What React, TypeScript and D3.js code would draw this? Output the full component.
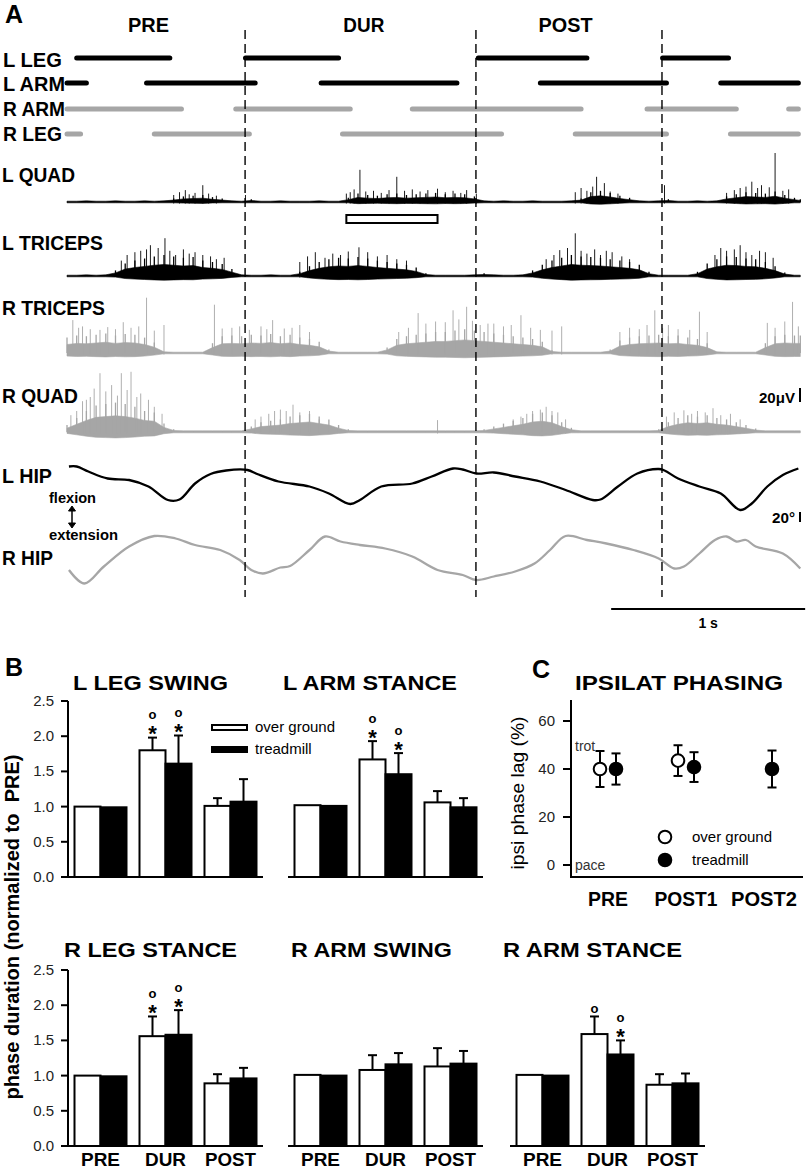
import React from "react";
import * as d3 from "d3";

const FONT = "'Liberation Sans', Arial, Helvetica, sans-serif";
const GRAY = "#a6a6a6";

// ---------------- Panel A data ----------------
const periodNames = ["PRE", "DUR", "POST"];
const periodCenters = [0.42, 1.53, 2.57]; // s
const periodWidths = [41, 41, 54];
const boundaryTimes = [0.918, 2.108, 3.067]; // s

const limbRows = ["L LEG", "L ARM", "R ARM", "R LEG"];
const lLegPhase = [[0.05, 0.53], [0.92, 1.40], [2.12, 2.68], [3.07, 3.41]];
const lArmPhase = [[0.0, 0.10], [0.41, 0.97], [1.31, 2.01], [2.44, 3.09], [3.37, 3.77]];
const rArmPhase = [[0.0, 0.59], [0.87, 1.46], [1.78, 2.65], [2.99, 3.45], [3.72, 3.77]];
const rLegPhase = [[0.0, 0.07], [0.45, 0.94], [1.42, 2.24], [2.62, 3.09], [3.42, 3.77]];
const stimWindow = [1.44, 1.91];

const EMG_BIN = 0.05; // s per envelope value
// rectified EMG envelopes (µV), one value per 50 ms
const lQuadEnv = [
  2, 2, 3, 2, 2, 3, 2, 2, 3, 2,
  3, 5, 8, 9, 10, 7, 5, 3, 2, 4,
  2, 2, 3, 2, 2, 2, 3, 2, 2, 6,
  12, 10, 9, 11, 12, 10, 11, 12, 13, 11,
  12, 11, 8, 3, 2, 3, 2, 2, 3, 2,
  2, 2, 3, 5, 14, 16, 13, 9, 6, 3,
  2, 3, 4, 2, 2, 3, 2, 3, 8, 11,
  14, 13, 12, 15, 10, 6, 4,
];
const lTricepsEnv = [
  2, 2, 3, 2, 3, 8, 18, 22, 25, 28,
  30, 28, 26, 27, 22, 20, 17, 10, 3, 2,
  2, 3, 2, 2, 6, 14, 20, 24, 26, 25,
  27, 25, 22, 20, 18, 16, 12, 4, 2, 2,
  2, 2, 3, 4, 3, 2, 2, 3, 8, 16,
  22, 26, 30, 28, 27, 26, 24, 22, 20, 16,
  6, 2, 2, 2, 2, 6, 18, 24, 28, 27,
  25, 24, 20, 14, 5, 2, 2,
];
const rTricepsEnv = [
  22, 25, 24, 26, 28, 25, 27, 26, 22, 15,
  3, 2, 2, 2, 2, 14, 24, 25, 24, 26,
  25, 27, 24, 26, 22, 20, 16, 5, 2, 2,
  2, 2, 2, 8, 20, 24, 26, 28, 30, 30,
  32, 34, 32, 30, 28, 26, 24, 22, 20, 16,
  4, 2, 2, 2, 2, 2, 5, 18, 22, 24,
  25, 26, 24, 25, 22, 20, 14, 3, 2, 2,
  2, 2, 14, 24, 26, 25, 25,
];
const rQuadEnv = [
  10, 20, 30, 38, 40, 42, 40, 36, 30, 28,
  12, 4, 3, 3, 3, 3, 3, 3, 3, 8,
  14, 16, 18, 22, 24, 26, 22, 18, 10, 4,
  3, 3, 3, 3, 3, 3, 3, 3, 3, 3,
  3, 3, 3, 4, 8, 12, 16, 20, 26, 28,
  24, 14, 6, 3, 3, 3, 3, 3, 3, 3,
  3, 4, 14, 20, 24, 22, 24, 20, 18, 14,
  10, 5, 3, 3, 3, 3, 3,
];
// prominent single spikes [time s, µV]
const lQuadSpikes = [[0.55, 10], [0.58, 14], [0.61, 17], [0.63, 11], [0.66, 13], [0.70, 24], [0.73, 12], [0.77, 9], [0.92, 10], [1.44, 12], [1.46, 14], [1.48, 18], [1.51, 46], [1.54, 15], [1.58, 16], [1.62, 13], [1.66, 17], [1.70, 36], [1.74, 16], [1.78, 18], [1.82, 15], [1.86, 17], [1.91, 19], [1.95, 14], [1.99, 16], [2.03, 13], [2.06, 17], [2.11, 12], [2.62, 14], [2.65, 20], [2.68, 16], [2.71, 22], [2.73, 36], [2.77, 27], [2.80, 15], [2.84, 12], [3.08, 24], [3.40, 13], [3.44, 17], [3.47, 20], [3.50, 22], [3.53, 29], [3.56, 20], [3.58, 24], [3.62, 21], [3.65, 70], [3.69, 16], [3.72, 18]];
const lTricepsSpikes = [[0.28, 22], [0.31, 30], [0.35, 34], [0.38, 36], [0.41, 38], [0.43, 44], [0.47, 40], [0.505, 54], [0.53, 36], [0.56, 30], [0.60, 38], [0.63, 32], [0.66, 34], [0.70, 30], [0.74, 28], [0.77, 24], [0.81, 26], [1.20, 20], [1.24, 28], [1.28, 34], [1.33, 26], [1.37, 32], [1.41, 30], [1.45, 35], [1.505, 41], [1.55, 34], [1.60, 28], [1.65, 30], [1.70, 24], [1.75, 22], [2.47, 24], [2.51, 30], [2.54, 37], [2.58, 40], [2.62, 61], [2.65, 36], [2.68, 32], [2.72, 38], [2.75, 30], [2.78, 36], [2.81, 34], [2.86, 28], [2.90, 24], [3.34, 30], [3.37, 40], [3.40, 36], [3.44, 38], [3.47, 44], [3.50, 34], [3.53, 30], [3.57, 36], [3.60, 34], [3.64, 26]];
const rTricepsSpikes = [[0.03, 47], [0.06, 36], [0.08, 38], [0.12, 34], [0.17, 33], [0.21, 37], [0.25, 34], [0.29, 44], [0.33, 36], [0.37, 38], [0.41, 79], [0.45, 32], [0.50, 40], [0.76, 69], [0.80, 35], [0.85, 36], [0.89, 38], [0.94, 33], [1.00, 38], [1.03, 34], [1.06, 47], [1.12, 35], [1.16, 36], [1.20, 40], [1.25, 30], [1.71, 30], [1.76, 36], [1.81, 57], [1.85, 42], [1.90, 45], [1.95, 44], [1.99, 61], [2.02, 48], [2.06, 66], [2.09, 46], [2.13, 40], [2.17, 42], [2.20, 42], [2.25, 38], [2.29, 40], [2.34, 54], [2.39, 36], [2.44, 33], [2.50, 32], [2.55, 38], [2.85, 30], [2.90, 36], [2.95, 34], [2.99, 40], [3.03, 61], [3.07, 36], [3.10, 40], [3.15, 34], [3.21, 33], [3.26, 59], [3.30, 30], [3.61, 43], [3.65, 36], [3.70, 45], [3.74, 73], [3.77, 38]];
const rQuadSpikes = [[0.02, 24], [0.05, 30], [0.08, 44], [0.10, 46], [0.12, 50], [0.14, 62], [0.17, 84], [0.20, 58], [0.23, 67], [0.26, 52], [0.28, 84], [0.31, 60], [0.33, 86], [0.36, 50], [0.38, 55], [0.42, 46], [0.45, 36], [0.49, 26], [0.97, 18], [1.00, 22], [1.04, 26], [1.07, 30], [1.10, 32], [1.13, 30], [1.165, 39], [1.20, 28], [1.25, 30], [1.30, 18], [1.91, 17], [2.30, 18], [2.34, 22], [2.37, 26], [2.40, 30], [2.44, 32], [2.47, 36], [2.50, 30], [2.53, 28], [2.57, 18], [3.09, 22], [3.13, 28], [3.18, 31], [3.22, 26], [3.25, 30], [3.29, 28], [3.33, 34], [3.37, 24], [3.42, 26], [3.47, 18]];

// hip angles [time s, degrees relative]
const lHip = [[0.01, 47], [0.05, 47], [0.11, 37], [0.21, 23], [0.32, 20], [0.42, 7], [0.52, -20], [0.58, -19], [0.66, 13], [0.74, 32], [0.82, 39], [0.93, 40], [0.98, 32], [1.09, 17], [1.25, 7], [1.35, -7], [1.46, -28], [1.51, -20], [1.62, 7], [1.78, 13], [1.88, 27], [1.99, 43], [2.04, 41], [2.11, 33], [2.20, 35], [2.31, 27], [2.44, 17], [2.57, 0], [2.71, -20], [2.75, -19], [2.84, 7], [2.94, 33], [3.05, 42], [3.08, 39], [3.15, 23], [3.26, 7], [3.37, -7], [3.47, -40], [3.53, -27], [3.61, 7], [3.69, 30], [3.77, 43]];
const rHip = [[0.01, -20], [0.09, -47], [0.19, -13], [0.32, 27], [0.45, 48], [0.56, 43], [0.66, 30], [0.79, 20], [0.89, 0], [0.95, -20], [1.01, -27], [1.10, -15], [1.15, -12], [1.25, 20], [1.33, 47], [1.41, 37], [1.51, 30], [1.64, 23], [1.78, 7], [1.91, -20], [2.04, -30], [2.11, -40], [2.20, -33], [2.31, -23], [2.41, -7], [2.49, 20], [2.57, 48], [2.68, 40], [2.78, 33], [2.92, 20], [3.05, 3], [3.13, -17], [3.18, -13], [3.26, 13], [3.34, 40], [3.40, 47], [3.45, 37], [3.50, 40], [3.55, 27], [3.69, 13], [3.78, -17]];
const timeBarStart = 2.805; // s
const timeBarLen = 1; // s
const emgBarValue = 20; // µV
const angleBarValue = 20; // deg

// ---------------- Panel B data ----------------
const groups = ["PRE", "DUR", "POST"];
const seriesNames = ["over ground", "treadmill"];
const yTicksB = [0, 0.5, 1, 1.5, 2, 2.5];
// per group: [over ground, treadmill]
const lLegSwingMean = [[1.0, 0.99], [1.80, 1.61], [1.01, 1.07]];
const lLegSwingErr = [[0, 0], [0.18, 0.40], [0.11, 0.32]];
const lLegSwingSig = [["DUR", 0, "o*"], ["DUR", 1, "o*"]];
const lArmStanceMean = [[1.02, 1.01], [1.67, 1.46], [1.06, 0.99]];
const lArmStanceErr = [[0, 0], [0.26, 0.30], [0.16, 0.13]];
const lArmStanceSig = [["DUR", 0, "o*"], ["DUR", 1, "o*"]];
const rLegStanceMean = [[1.0, 0.99], [1.56, 1.58], [0.89, 0.96]];
const rLegStanceErr = [[0, 0], [0.28, 0.35], [0.13, 0.15]];
const rLegStanceSig = [["DUR", 0, "o*"], ["DUR", 1, "o*"]];
const rArmSwingMean = [[1.01, 1.0], [1.08, 1.16], [1.13, 1.17]];
const rArmSwingErr = [[0, 0], [0.21, 0.16], [0.26, 0.18]];
const rArmSwingSig: any[] = [];
const rArmStanceMean = [[1.01, 1.0], [1.59, 1.30], [0.87, 0.89]];
const rArmStanceErr = [[0, 0], [0.25, 0.20], [0.15, 0.14]];
const rArmStanceSig = [["DUR", 0, "o"], ["DUR", 1, "o*"]];

// ---------------- Panel C data ----------------
const phasingGroups = ["PRE", "POST1", "POST2"];
const phasingOver = [[40, 7.5], [43.5, 6.4], null]; // mean, error
const phasingTread = [[40, 6.5], [40.8, 6.2], [40, 7.7]];
const phasingTicks = [0, 20, 40, 60];

// ---------------- helpers ----------------
const tx = d3.scaleLinear().domain([0, 3.78]).range([67, 800.3]);
const uv = d3.scaleLinear().domain([0, 20]).range([0, 14]);
const dg = d3.scaleLinear().domain([0, 20]).range([0, 10]);

function Emg({ env, spikes, base, color }: { env: number[]; spikes: number[][]; base: number; color: string }) {
  const area = d3
    .area<number>()
    .x((_, i) => tx(Math.min(i * EMG_BIN, 3.78)))
    .y0((d) => base + Math.max(0.8, uv(d) * 0.2))
    .y1((d) => base - Math.max(0.8, uv(d) * 0.55))
    .curve(d3.curveLinear);
  return (
    <g>
      <path d={area(env) || ""} fill={color} stroke={color} strokeWidth={0.6} />
      {env.map((v, i) =>
        v > 3 ? (
          <line
            key={"e" + i}
            x1={tx(Math.min(i * EMG_BIN, 3.78))}
            x2={tx(Math.min(i * EMG_BIN, 3.78))}
            y1={base}
            y2={base - uv(v)}
            stroke={color}
            strokeWidth={1.3}
          />
        ) : null
      )}
      {spikes.map((s, i) => (
        <line key={i} x1={tx(s[0])} x2={tx(s[0])} y1={base + 1.5} y2={base - uv(s[1])} stroke={color} strokeWidth={0.9} />
      ))}
    </g>
  );
}

function Hip({ data, ref0, color }: { data: number[][]; ref0: number; color: string }) {
  const line = d3
    .line<number[]>()
    .x((d) => tx(d[0]))
    .y((d) => ref0 - dg(d[1]))
    .curve(d3.curveCatmullRom.alpha(0.5));
  return <path d={line(data) || ""} fill="none" stroke={color} strokeWidth={2.3} strokeLinejoin="round" />;
}

type BarProps = {
  x0: number;
  yBase: number;
  title: string;
  titleX: number;
  titleW: number;
  titleY: number;
  mean: number[][];
  err: number[][];
  sig: any[];
  axis: boolean;
  xLabels: boolean;
};

function BarChart(p: BarProps) {
  const band = d3.scaleBand<string>().domain(groups).range([p.x0, p.x0 + 195]).paddingInner(0.2).paddingOuter(0.1);
  const sub = d3.scaleBand<string>().domain(seriesNames).range([0, band.bandwidth()]);
  const y = d3.scaleLinear().domain([0, 2.5]).range([p.yBase, p.yBase - 176]);
  const w = sub.bandwidth();
  const bars = groups.flatMap((g, gi) =>
    seriesNames.map((s, si) => ({ g, s, si, v: p.mean[gi][si], e: p.err[gi][si] }))
  );
  const fmt = d3.format(".1f");
  const labelW: Record<string, number> = { PRE: 39, DUR: 41, POST: 51 };
  return (
    <g>
      <text x={p.titleX} y={p.titleY} fontSize={20} fontWeight="bold" textLength={p.titleW} lengthAdjust="spacingAndGlyphs">
        {p.title}
      </text>
      {bars.map((b) => {
        const cx = band(b.g)! + sub(b.s)! + w / 2;
        return (
          <g key={b.g + b.s}>
            {b.e > 0 && (
              <g stroke="#000" strokeWidth={2}>
                <line x1={cx} x2={cx} y1={y(b.v)} y2={y(b.v + b.e)} />
                <line x1={cx - 4.5} x2={cx + 4.5} y1={y(b.v + b.e)} y2={y(b.v + b.e)} />
              </g>
            )}
            <rect
              x={band(b.g)! + sub(b.s)!}
              y={y(b.v)}
              width={w}
              height={y(0) - y(b.v)}
              fill={b.si === 0 ? "#fff" : "#000"}
              stroke="#000"
              strokeWidth={2}
            />
          </g>
        );
      })}
      {p.sig.map((s, i) => {
        const gi = groups.indexOf(s[0]);
        const si = s[1] as number;
        const cx = band(s[0])! + sub(seriesNames[si])! + w / 2;
        const top = y(p.mean[gi][si] + p.err[gi][si]);
        const chars = (s[2] as string).split("").reverse();
        let cursor = top - 4;
        const out: any[] = [];
        chars.forEach((c, k) => {
          if (c === "*") {
            out.push(
              <text key={k} x={cx} y={cursor + 7.5} fontSize={22} fontWeight="bold" textAnchor="middle">
                *
              </text>
            );
            cursor -= 15;
          } else {
            out.push(
              <text key={k} x={cx} y={cursor + 0.5} fontSize={13} fontWeight="bold" textAnchor="middle">
                o
              </text>
            );
            cursor -= 9;
          }
        });
        return <g key={i}>{out}</g>;
      })}
      <line x1={p.x0} x2={p.x0 + 195} y1={p.yBase} y2={p.yBase} stroke="#000" strokeWidth={2} />
      {p.axis && (
        <g>
          <line x1={p.x0} x2={p.x0} y1={p.yBase + 1} y2={y(2.5)} stroke="#000" strokeWidth={2} />
          {yTicksB.map((t) => (
            <g key={t}>
              <line x1={p.x0 - 7} x2={p.x0} y1={y(t)} y2={y(t)} stroke="#000" strokeWidth={2} />
              <text x={p.x0 - 14} y={y(t) + 5} fontSize={15} textAnchor="end" fill="#222">
                {fmt(t)}
              </text>
            </g>
          ))}
        </g>
      )}
      {p.xLabels &&
        groups.map((g) => (
          <text
            key={g}
            x={band(g)! + band.bandwidth() / 2}
            y={p.yBase + 20}
            fontSize={19}
            fontWeight="bold"
            textAnchor="middle"
            textLength={labelW[g]}
            lengthAdjust="spacingAndGlyphs"
          >
            {g}
          </text>
        ))}
    </g>
  );
}

export default function App() {
  const rowY = [58, 83, 109, 134];
  const rowLabelY = [67, 91, 116, 141];
  const rowLabelW = [59, 62, 62, 59];
  const rowData = [lLegPhase, lArmPhase, rArmPhase, rLegPhase];
  const rowColor = ["#000", "#000", GRAY, GRAY];

  const emg = [
    { label: "L QUAD", env: lQuadEnv, spikes: lQuadSpikes, base: 202, color: "#000", ly: 182, lw: 73 },
    { label: "L TRICEPS", env: lTricepsEnv, spikes: lTricepsSpikes, base: 276, color: "#000", ly: 250, lw: 101 },
    { label: "R TRICEPS", env: rTricepsEnv, spikes: rTricepsSpikes, base: 353, color: GRAY, ly: 315, lw: 103 },
    { label: "R QUAD", env: rQuadEnv, spikes: rQuadSpikes, base: 432, color: GRAY, ly: 403, lw: 76 },
  ];

  // Panel C scales
  const cx = d3.scalePoint<string>().domain(phasingGroups).range([608, 764]);
  const cy = d3.scaleLinear().domain([-5, 68.75]).range([877, 700]);
  const cLabelW: Record<string, number> = { PRE: 40, POST1: 63, POST2: 66 };

  const lbl = (txt: string, x: number, y: number, w: number, size = 20) => (
    <text x={x} y={y} fontSize={size} fontWeight="bold" textLength={w} lengthAdjust="spacingAndGlyphs">
      {txt}
    </text>
  );

  return (
    <svg
      width={807}
      height={1171}
      style={{ position: "absolute", left: 0, top: 0, background: "#fff" }}
      fontFamily={FONT}
    >
      <rect width={807} height={1171} fill="#fff" />
      {/* ---------- Panel A ---------- */}
      <text x={5} y={23} fontSize={25} fontWeight="bold">A</text>
      {periodNames.map((n, i) => (
        <text
          key={n}
          x={tx(periodCenters[i])}
          y={32}
          fontSize={21}
          fontWeight="bold"
          textAnchor="middle"
          textLength={periodWidths[i]}
          lengthAdjust="spacingAndGlyphs"
        >
          {n}
        </text>
      ))}
      {limbRows.map((r, i) => (
        <g key={r}>
          {lbl(r, 3, rowLabelY[i], rowLabelW[i])}
          {rowData[i].map((ph, j) => (
            <line
              key={j}
              x1={tx(ph[0])}
              x2={tx(ph[1])}
              y1={rowY[i]}
              y2={rowY[i]}
              stroke={rowColor[i]}
              strokeWidth={5}
              strokeLinecap="round"
            />
          ))}
        </g>
      ))}
      {emg.map((e) => (
        <g key={e.label}>
          {lbl(e.label, 2, e.ly, e.lw)}
          <Emg env={e.env} spikes={e.spikes} base={e.base} color={e.color} />
        </g>
      ))}
      <rect
        x={tx(stimWindow[0])}
        y={215}
        width={tx(stimWindow[1]) - tx(stimWindow[0])}
        height={8}
        fill="#fff"
        stroke="#000"
        strokeWidth={2}
      />
      {lbl("L HIP", 2, 483, 50)}
      {lbl("R HIP", 2, 565, 51)}
      <Hip data={lHip} ref0={490} color="#000" />
      <Hip data={rHip} ref0={560} color={GRAY} />
      {lbl("flexion", 49, 503, 47, 14)}
      {lbl("extension", 49, 540, 69, 14)}
      <g fill="#000" stroke="#000">
        <line x1={72} x2={72} y1={510} y2={524} strokeWidth={1.5} />
        <path d="M68.5,511 L72,506 L75.5,511 Z" />
        <path d="M68.5,523 L72,528 L75.5,523 Z" />
      </g>
      {/* scale bars */}
      {lbl("20\u03bcV", 759, 403, 36, 15)}
      <line x1={800} x2={800} y1={402} y2={402 - uv(emgBarValue)} stroke="#000" strokeWidth={2} />
      {lbl("20\u00b0", 772, 523, 23, 15)}
      <line x1={800} x2={800} y1={522} y2={522 - dg(angleBarValue)} stroke="#000" strokeWidth={2} />
      <line x1={tx(timeBarStart)} x2={tx(timeBarStart + timeBarLen)} y1={609} y2={609} stroke="#000" strokeWidth={2} />
      <text x={(tx(timeBarStart) + tx(timeBarStart + timeBarLen)) / 2} y={628} fontSize={14} fontWeight="bold" textAnchor="middle">
        1 s
      </text>
      {boundaryTimes.map((t) => (
        <line key={t} x1={tx(t)} x2={tx(t)} y1={30} y2={597} stroke="#000" strokeWidth={1.4} strokeDasharray="9,5" />
      ))}

      {/* ---------- Panel B ---------- */}
      <text x={5} y={676} fontSize={25} fontWeight="bold">B</text>
      <text
        transform="translate(19,927) rotate(-90)"
        fontSize={20}
        fontWeight="bold"
        textAnchor="middle"
        textLength={345}
        lengthAdjust="spacingAndGlyphs"
        style={{ whiteSpace: "pre" }}
      >
        {"phase duration (normalized to  PRE)"}
      </text>
      <BarChart x0={68} yBase={877} title="L LEG SWING" titleX={73} titleW={155} titleY={690} mean={lLegSwingMean} err={lLegSwingErr} sig={lLegSwingSig} axis={true} xLabels={false} />
      <BarChart x0={288} yBase={877} title="L ARM STANCE" titleX={283} titleW={174} titleY={690} mean={lArmStanceMean} err={lArmStanceErr} sig={lArmStanceSig} axis={false} xLabels={false} />
      <BarChart x0={68} yBase={1146} title="R LEG STANCE" titleX={64} titleW={173} titleY={957} mean={rLegStanceMean} err={rLegStanceErr} sig={rLegStanceSig} axis={true} xLabels={true} />
      <BarChart x0={288} yBase={1146} title="R ARM SWING" titleX={291} titleW={161} titleY={957} mean={rArmSwingMean} err={rArmSwingErr} sig={rArmSwingSig} axis={false} xLabels={true} />
      <BarChart x0={510} yBase={1146} title="R ARM STANCE" titleX={503} titleW={179} titleY={957} mean={rArmStanceMean} err={rArmStanceErr} sig={rArmStanceSig} axis={false} xLabels={true} />
      {/* legend B */}
      <rect x={212} y={725} width={35} height={5} fill="#fff" stroke="#000" strokeWidth={2} />
      <text x={255} y={732} fontSize={15}>{seriesNames[0]}</text>
      <rect x={212} y={747} width={35} height={5} fill="#000" stroke="#000" strokeWidth={2} />
      <text x={255} y={754} fontSize={15}>{seriesNames[1]}</text>

      {/* ---------- Panel C ---------- */}
      <text x={532} y={678} fontSize={25} fontWeight="bold">C</text>
      <text x={575} y={690} fontSize={20} fontWeight="bold" textLength={208} lengthAdjust="spacingAndGlyphs">
        IPSILAT PHASING
      </text>
      <text transform="translate(524,793) rotate(-90)" fontSize={19} textAnchor="middle" textLength={153} lengthAdjust="spacingAndGlyphs">
        ipsi phase lag (%)
      </text>
      <line x1={571} x2={571} y1={700} y2={878} stroke="#000" strokeWidth={2} />
      <line x1={570} x2={803} y1={877} y2={877} stroke="#000" strokeWidth={2} />
      {phasingTicks.map((t) => (
        <g key={t}>
          <line x1={563} x2={571} y1={cy(t)} y2={cy(t)} stroke="#000" strokeWidth={2} />
          <text x={555} y={cy(t) + 5} fontSize={15} textAnchor="end" fill="#222">
            {t}
          </text>
        </g>
      ))}
      <text x={575} y={751} fontSize={14} fill="#333">trot</text>
      <text x={575} y={870} fontSize={14} fill="#333">pace</text>
      {phasingGroups.map((g, i) => {
        const items = [
          { d: phasingOver[i], dx: -8, fill: "#fff" },
          { d: phasingTread[i], dx: 8, fill: "#000" },
        ];
        return (
          <g key={g}>
            {items.map((it, k) =>
              it.d ? (
                <g key={k}>
                  <g stroke="#000" strokeWidth={2}>
                    <line x1={cx(g)! + it.dx} x2={cx(g)! + it.dx} y1={cy(it.d[0] - it.d[1])} y2={cy(it.d[0] + it.d[1])} />
                    <line x1={cx(g)! + it.dx - 4.5} x2={cx(g)! + it.dx + 4.5} y1={cy(it.d[0] + it.d[1])} y2={cy(it.d[0] + it.d[1])} />
                    <line x1={cx(g)! + it.dx - 4.5} x2={cx(g)! + it.dx + 4.5} y1={cy(it.d[0] - it.d[1])} y2={cy(it.d[0] - it.d[1])} />
                  </g>
                  <circle cx={cx(g)! + it.dx} cy={cy(it.d[0])} r={6.3} fill={it.fill} stroke="#000" strokeWidth={2} />
                </g>
              ) : null
            )}
            <text
              x={cx(g)!}
              y={906}
              fontSize={21}
              fontWeight="bold"
              textAnchor="middle"
              textLength={cLabelW[g]}
              lengthAdjust="spacingAndGlyphs"
            >
              {g}
            </text>
          </g>
        );
      })}
      <circle cx={665} cy={837} r={6.3} fill="#fff" stroke="#000" strokeWidth={2} />
      <text x={692} y={842} fontSize={15}>{seriesNames[0]}</text>
      <circle cx={665} cy={860} r={6.3} fill="#000" stroke="#000" strokeWidth={2} />
      <text x={692} y={865} fontSize={15}>{seriesNames[1]}</text>
    </svg>
  );
}
